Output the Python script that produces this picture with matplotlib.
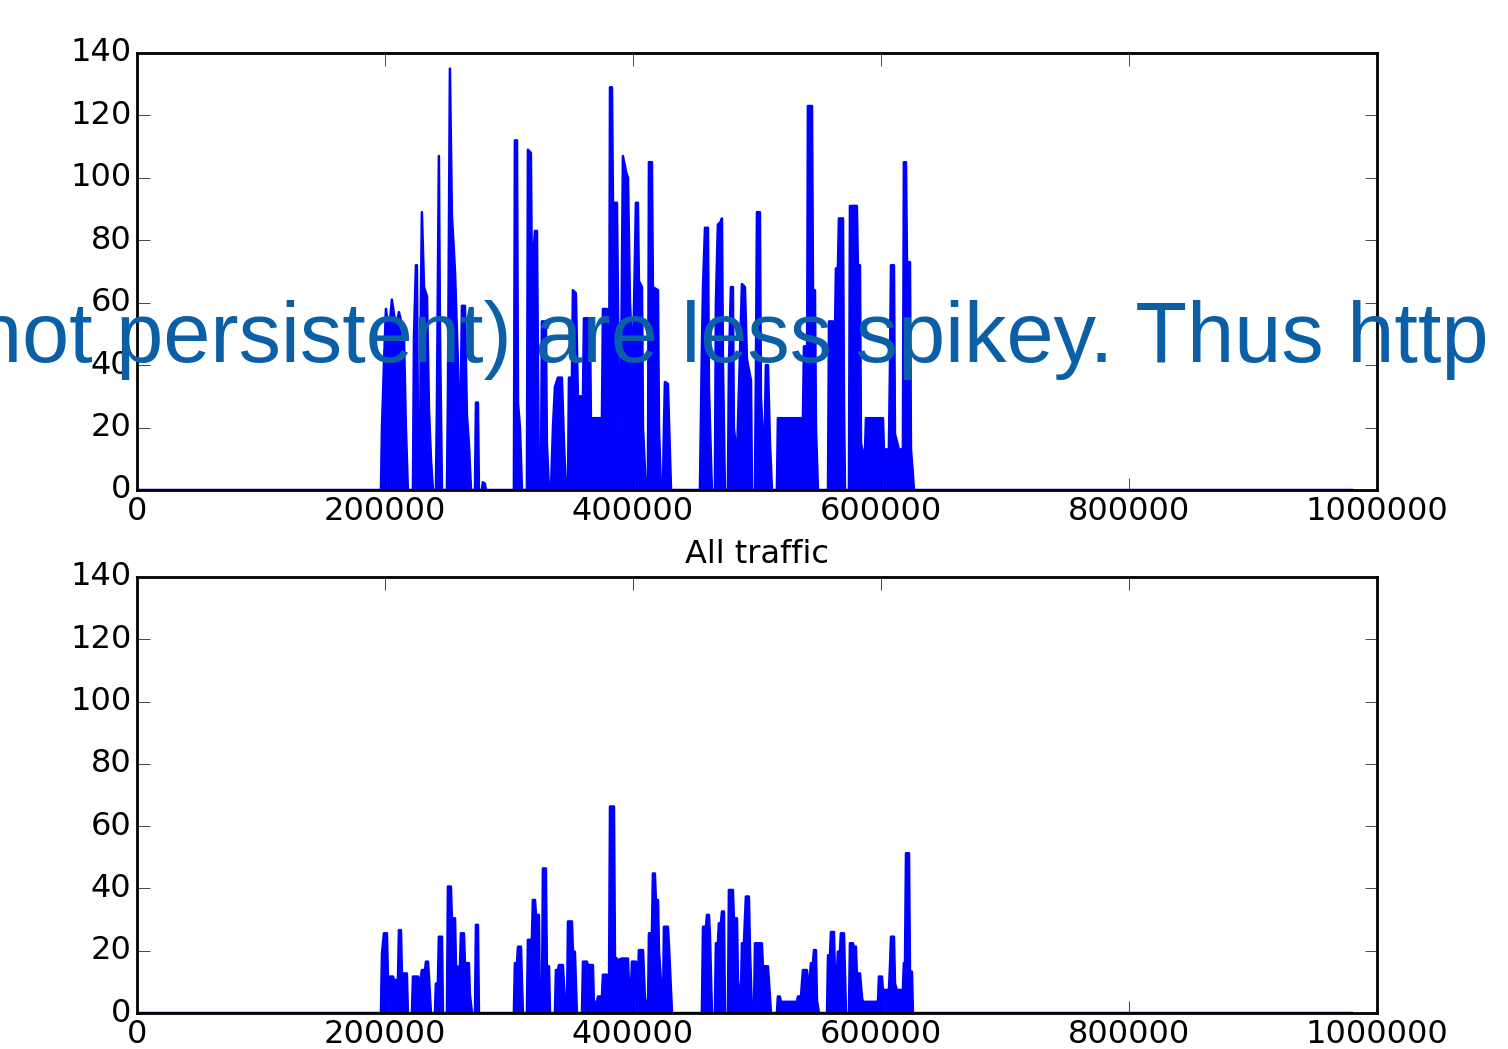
import matplotlib
matplotlib.use('Agg')
import matplotlib.pyplot as plt

plt.style.use('classic')
plt.rcParams['font.family'] = ['DejaVu Sans']
plt.rcParams['font.size'] = 23
plt.rcParams['axes.linewidth'] = 2
plt.rcParams['xtick.major.size'] = 9
plt.rcParams['ytick.major.size'] = 9
plt.rcParams['xtick.major.pad'] = 4
plt.rcParams['ytick.major.pad'] = 4

# traffic per time bin, persistent connections only (top)
persist_t = [0, 196800, 197600, 199200, 200800, 203200, 205600, 208900, 211300, 215300, 216900, 218500,
             222600, 223400, 225000, 225800, 226600, 227400, 228200, 229000, 229800, 231500, 233900, 235500, 237100, 238700,
             241100, 241900, 243500, 244400, 246000,
             250000, 250800, 252400, 254000, 256500, 258900, 260500, 262100, 264500, 266100, 267700, 269400,
             272600, 273400, 275000, 275800, 278200, 279000, 280600, 281500,
             304000, 304800, 306500, 307300, 308900, 310500,
             314500, 315300, 317700, 318500, 321000, 322600, 324200,
             325800, 326600, 329800, 330600, 332300,
             333900, 335500, 337100, 339500, 342700, 344400, 346000,
             347600, 348400, 350800, 351600, 354000, 355600, 359700, 360500, 365300, 366100, 375000, 375800, 379000, 379800,
             380600, 381500, 383100, 383900, 387100, 388700, 389500, 390300, 391900, 394400, 396000, 397600, 400000,
             402400, 404000, 404800, 407300, 408100, 410500,
             412100, 412900, 415300, 416100, 420200, 421000, 422600,
             424200, 425000, 425800, 428200, 429000, 430700,
             454000, 455600, 456500, 458100, 460500, 461300, 462900, 463700,
             466100, 466900, 468500, 470900, 471800, 472600, 474200,
             476600, 477400, 479000, 480600, 481400, 483900, 487900, 490300, 491900, 495200, 496000,
             498400, 499200, 500000, 502400, 503200, 504800, 506400, 507200, 508900, 510500, 512100,
             516100, 516900, 537100, 537900, 539500, 540300, 541100, 544400, 545200, 546800, 547600, 549200,
             557300, 558100, 561300, 562100, 563700, 565300, 566100, 569400, 570200, 571000,
             574200, 575000, 580600, 581400, 583100, 583900, 585500, 587100, 587900, 601600, 602400, 606400,
             607300, 608100, 610500, 611300, 614500, 617700, 618500, 620200, 621000, 623400, 624200, 625800, 626600,
             980000]
persist_v = [0, 0, 20, 40, 58, 50, 61, 52, 57, 50, 20, 0,
             0, 49, 72, 72, 20, 0, 0, 60, 89, 65, 62, 26, 10, 0,
             0, 26, 107, 50, 0,
             0, 30, 135, 88, 70, 40, 10, 59, 59, 24, 15, 0,
             0, 28, 28, 0, 0, 2.5, 2, 0,
             0, 112, 112, 28, 20, 0,
             0, 109, 108, 68, 83, 83, 0,
             0, 54, 54, 15, 0,
             0, 20, 33, 36, 36, 15, 0,
             0, 36, 36, 64, 63, 30, 30, 55, 55, 23, 23, 58, 58, 0,
             0, 129, 129, 92, 92, 30, 0, 30, 107, 102, 100, 60, 40,
             92, 92, 67, 65, 20, 0,
             0, 105, 105, 65, 64, 20, 0,
             0, 20, 34.6, 34, 23, 0,
             0, 45, 65, 84, 84, 33, 10, 0,
             0, 60, 85, 86, 87, 40, 0,
             0, 40, 65, 65, 20, 10, 66, 65, 42, 35, 0,
             0, 40, 89, 89, 30, 17, 20, 40, 40, 15, 0,
             0, 23, 23, 46, 46, 20, 123, 123, 64, 64, 20, 0,
             0, 54, 54, 29, 71, 71, 87, 87, 28, 0,
             0, 91, 91, 72, 72, 15, 12, 12, 23, 23, 13, 13,
             40, 72, 72, 18, 13, 13, 105, 105, 73, 73, 13, 5, 0,
             0]

# all traffic (bottom)
all_t = [0, 196800, 197600, 199200, 201600, 202400, 206500, 207300, 210500, 211300, 212900, 213700, 217700, 218500,
         221800, 222600, 226600, 228200, 229800, 232300, 233100, 234700, 235500, 237100,
         240300, 241100, 242700, 243500, 246000, 246800,
         250000, 250800, 253200, 254000, 256500, 257300, 260500, 261300, 263700, 264500, 267700, 268500, 270200,
         272600, 273400, 275000, 275800,
         304000, 304800, 306500, 307300, 309700, 310500, 311300,
         314500, 315300, 318500, 319300, 321000, 321800, 324200, 325000,
         326600, 327400, 329800, 330600, 332300, 333100,
         337100, 337900, 339500, 340300, 343500, 344400, 346000,
         346800, 347600, 350800, 351600, 353200, 354800,
         358900, 359700, 362900, 363700, 367700, 368500, 371000, 371800, 375000, 375800, 379000, 379800,
         380600, 381500, 384700, 385500, 387900, 391100, 396000, 396800, 398400, 399200, 402400, 403200, 404000,
         404800, 408100, 409700, 412100,
         412900, 415300, 416100, 417700, 418500, 420200, 421000, 424200,
         425000, 428200, 429000, 431500,
         455600, 456500, 458900, 459700, 461300, 462100, 463700,
         466100, 466900, 468500, 469300, 470900, 471800, 473400, 474200,
         476600, 477400, 480600, 481400, 483900, 484700, 486300, 487100, 487900, 489500, 491100, 493500, 494400, 496000,
         497600, 498400, 504000, 504800, 508900, 509700, 511300,
         516100, 516900, 518500, 519300, 532300, 533100, 535500, 537100, 540300, 541100, 542700, 543500, 545200,
         546000, 547600, 548400, 550000,
         556500, 557300, 558900, 559700, 562100, 562900, 564500, 565300, 566900, 567700, 570200, 571800,
         574200, 575000, 577400, 578200, 579800, 580600, 583100, 584700, 585500, 597600, 598400, 600800, 601600,
         606400, 607300, 608100, 610500, 611300, 612900, 617700, 618500, 619400, 620200, 622600, 623400, 625000, 625800,
         980000]
all_v = [0, 0, 19, 25.6, 25.6, 11.7, 11.7, 10.6, 10.6, 26.6, 26.6, 12.7, 12.7, 0,
         0, 11.7, 11.7, 9.5, 13.8, 13.8, 16.5, 16.5, 11.7, 0,
         0, 9.5, 9.5, 24.5, 24.5, 0,
         0, 40.6, 40.6, 30.4, 30.4, 14.9, 14.9, 25.6, 25.6, 16, 16, 6, 0,
         0, 28.3, 28.3, 0,
         0, 16, 16, 21.3, 21.3, 10, 0,
         0, 23.5, 23.5, 36.3, 36.3, 31.5, 31.5, 0,
         0, 46.4, 46.4, 15, 15, 0,
         0, 13.8, 13.8, 15.4, 15.4, 9, 0,
         0, 29.4, 29.4, 19.7, 19.7, 0,
         0, 16.5, 16.5, 15.4, 15.4, 3.6, 3.6, 5.3, 5.3, 12.3, 12.3, 0,
         0, 66.3, 66.3, 18, 17, 17.5, 17.5, 9, 8, 16.5, 16.5, 10, 10,
         20.2, 20.2, 5, 0,
         25.6, 25.6, 44.8, 44.8, 36.3, 36.3, 20, 0,
         27.7, 27.7, 22, 0,
         0, 27.7, 27.7, 31.5, 31.5, 25, 0,
         0, 22.4, 22.4, 28.8, 28.8, 32.6, 32.6, 0,
         0, 39.5, 39.5, 30.4, 30.4, 10.6, 5.3, 5.3, 22.4, 22.4, 37.4, 37.4, 20, 0,
         0, 22.4, 22.4, 15, 15, 10, 0,
         0, 5.3, 5.3, 3.6, 3.6, 5.3, 5.3, 13.8, 13.8, 11, 11, 16, 16,
         20.2, 20.2, 4, 0,
         0, 18.5, 18.5, 26, 26, 12.7, 12.7, 19.7, 19.7, 25.6, 25.6, 0,
         0, 22.4, 22.4, 21.3, 21.3, 12.7, 12.7, 5, 3.6, 3.6, 11.7, 11.7, 7.4,
         7.4, 15, 24.5, 24.5, 9.5, 7.4, 7.4, 16, 16, 51.3, 51.3, 13.3, 13.3, 0,
         0]

fig = plt.figure(figsize=(15.08, 10.49), dpi=100, facecolor='white')
ax1 = fig.add_axes([0.0908, 0.5329, 0.8223, 0.4166])
ax2 = fig.add_axes([0.0908, 0.0343, 0.8223, 0.4157])

for ax, t, v in [(ax1, persist_t, persist_v), (ax2, all_t, all_v)]:
    ax.fill_between(t, v, 0, color='b', lw=0)
    ax.plot(t, v, color='b', lw=1.8)
    ax.set_xlim(0, 1000000)
    ax.set_ylim(0, 140)
    ax.set_xticks([0, 200000, 400000, 600000, 800000, 1000000])
    ax.set_yticks(range(0, 141, 20))
    ax.ticklabel_format(style='plain', useOffset=False)

ax2.set_title('All traffic', fontsize=23, pad=10)

fig.text(-25 / 1508, 1 - 362 / 1049, 'not persistent) are less spikey. Thus http',
         family=['Liberation Sans', 'DejaVu Sans'], fontsize=61, color='#0b5fa6',
         ha='left', va='baseline', zorder=10)

fig.savefig('out.png', dpi=100, facecolor='white')
